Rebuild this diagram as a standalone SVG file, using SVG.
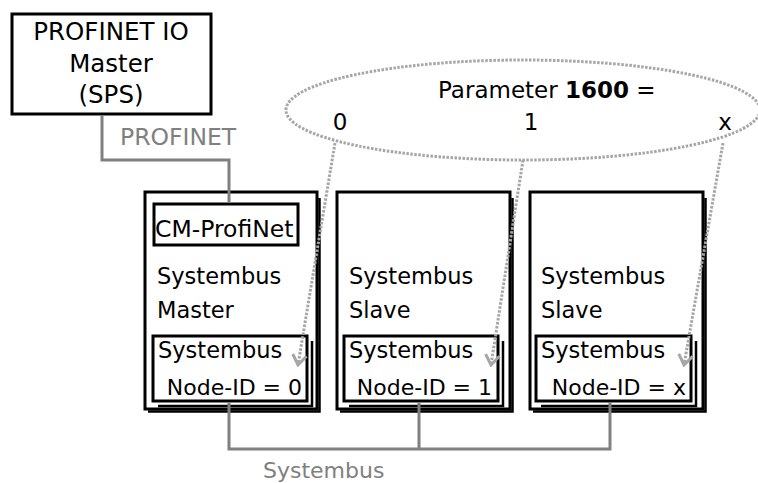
<svg xmlns="http://www.w3.org/2000/svg" width="758" height="483" viewBox="0 0 758 483">
<defs>
<style>
text{font-family:"DejaVu Sans","Verdana",sans-serif;fill:#000}
.box{fill:#fff;stroke:#000;stroke-width:3}
.sh{fill:none;stroke:#000;stroke-width:2.5}
.bus{fill:none;stroke:#808080;stroke-width:3}
.dot{fill:none;stroke:#a6a6a6;stroke-width:3;stroke-dasharray:2.5 1.5}
.gl{fill:#808080}
</style>
<marker id="chev" viewBox="-12 -9 14 18" markerWidth="14" markerHeight="18" refX="0" refY="0" orient="auto" markerUnits="userSpaceOnUse">
<polyline points="-10,-7 0,0 -10,7" fill="none" stroke="#a6a6a6" stroke-width="3"/>
</marker>
</defs>

<g id="master-sps">
<rect class="box" x="12" y="14" width="199" height="100"/>
<text x="111" y="40" font-size="24.5" text-anchor="middle">PROFINET IO</text>
<text x="111" y="72" font-size="24.5" text-anchor="middle">Master</text>
<text x="111" y="103" font-size="24.5" text-anchor="middle">(SPS)</text>
</g>

<g id="parameter">
<ellipse cx="523" cy="110" rx="237" ry="50" class="dot"/>
<text x="438" y="98" font-size="23">Parameter <tspan font-weight="bold">1600</tspan> =</text>
<text x="340" y="130" font-size="23" text-anchor="middle">0</text>
<text x="531" y="130" font-size="23" text-anchor="middle">1</text>
<text x="725" y="130" font-size="23" text-anchor="middle">x</text>
</g>

<g id="box-master">
<polyline class="sh" points="319.5,198 319.5,411.5 148,411.5"/>
<rect class="box" x="145" y="192" width="172" height="217"/>
<rect class="box" x="154" y="204" width="144" height="41"/>
<text x="155" y="237" font-size="23.5">CM-ProfiNet</text>
<text x="157" y="284" font-size="22.5">Systembus</text>
<text x="157" y="318" font-size="22.5">Master</text>
<polyline class="sh" points="312,341 312,406 158,406"/>
<rect class="box" x="153" y="336" width="154" height="65"/>
<text x="158" y="358" font-size="22.5">Systembus</text>
<text x="302" y="395" font-size="22" text-anchor="end">Node-ID = 0</text>
</g>

<g id="box-slave1">
<polyline class="sh" points="512.5,198 512.5,411.5 340,411.5"/>
<rect class="box" x="337" y="192" width="173" height="217"/>
<text x="349" y="284" font-size="22.5">Systembus</text>
<text x="349" y="318" font-size="22.5">Slave</text>
<polyline class="sh" points="503,341 503,406 349,406"/>
<rect class="box" x="344" y="336" width="154" height="65"/>
<text x="349" y="358" font-size="22.5">Systembus</text>
<text x="492" y="395" font-size="22" text-anchor="end">Node-ID = 1</text>
</g>

<g id="box-slave2">
<polyline class="sh" points="705.5,198 705.5,411.5 533,411.5"/>
<rect class="box" x="530" y="192" width="173" height="217"/>
<text x="541" y="284" font-size="22.5">Systembus</text>
<text x="541" y="318" font-size="22.5">Slave</text>
<polyline class="sh" points="696,341 696,406 541,406"/>
<rect class="box" x="536" y="336" width="155" height="65"/>
<text x="541" y="358" font-size="22.5">Systembus</text>
<text x="686" y="395" font-size="22" text-anchor="end">Node-ID = x</text>
</g>

<g id="connectors">
<polyline class="bus" points="102,115.5 102,160 229,160 229,202.5"/>
<polyline class="bus" points="229,402.5 229,449 610,449 610,402.5"/>
<line class="bus" x1="419" y1="402.5" x2="419" y2="449"/>
<line class="dot" x1="335" y1="143" x2="298" y2="365" marker-end="url(#chev)"/>
<line class="dot" x1="523" y1="160" x2="491" y2="365" marker-end="url(#chev)"/>
<line class="dot" x1="723" y1="143" x2="684" y2="365" marker-end="url(#chev)"/>
<text class="gl" x="120" y="145" font-size="23.5">PROFINET</text>
<text class="gl" x="263" y="478" font-size="22">Systembus</text>
</g>
</svg>
